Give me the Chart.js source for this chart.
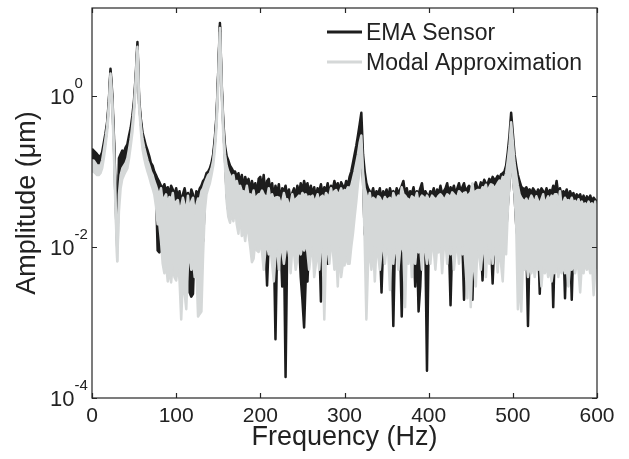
<!DOCTYPE html>
<html>
<head>
<meta charset="utf-8">
<script src="https://cdn.jsdelivr.net/npm/chart.js@4.4.1/dist/chart.umd.min.js"></script>
<style>
  body { margin: 0; background: #fff; }
  #wrap { width: 629px; height: 459px; }
</style>
</head>
<body>
<div id="wrap"><canvas id="spectrumChart" width="629" height="459"></canvas></div>
<script>
// frequency grid (Hz), one sample every 2 Hz
const freqHz = [];
for (let f = 0; f <= 600; f += 2) freqHz.push(f);

// EMA sensor: upper / lower edge of the measured spectrum (um)
const emaTop = [
  0.2, 0.19, 0.18, 0.17, 0.16, 0.16, 0.18, 0.24, 0.32, 0.45,
  0.85, 2.3, 1.1, 0.3, 0.06, 0.012, 0.15, 0.17, 0.19, 0.18,
  0.21, 0.23, 0.3, 0.38, 0.55, 0.9, 1.9, 5.2, 0.9, 0.5,
  0.33, 0.27, 0.22, 0.19, 0.16, 0.13, 0.12, 0.1, 0.09, 0.08,
  0.073, 0.065, 0.06, 0.068, 0.055, 0.062, 0.05, 0.065, 0.058, 0.048,
  0.06, 0.045, 0.055, 0.038, 0.05, 0.06, 0.045, 0.052, 0.04, 0.058,
  0.05, 0.035, 0.055, 0.048, 0.06, 0.065, 0.075, 0.08, 0.095, 0.1,
  0.11, 0.13, 0.17, 0.28, 0.56, 2.1, 9.3, 1.5, 0.45, 0.22,
  0.16, 0.14, 0.12, 0.11, 0.1, 0.1, 0.085, 0.095, 0.07, 0.09,
  0.06, 0.085, 0.07, 0.08, 0.055, 0.075, 0.06, 0.07, 0.05, 0.08,
  0.085, 0.06, 0.09, 0.05, 0.075, 0.08, 0.055, 0.07, 0.045, 0.065,
  0.05, 0.068, 0.04, 0.06, 0.055, 0.065, 0.045, 0.058, 0.04, 0.052,
  0.06, 0.045, 0.065, 0.05, 0.07, 0.055, 0.075, 0.06, 0.07, 0.05,
  0.065, 0.05, 0.062, 0.045, 0.06, 0.055, 0.068, 0.05, 0.062, 0.055,
  0.07, 0.05, 0.065, 0.058, 0.075, 0.06, 0.07, 0.055, 0.072, 0.065,
  0.06, 0.075, 0.065, 0.085, 0.1, 0.13, 0.17, 0.22, 0.3, 0.42,
  0.6, 0.17, 0.1, 0.07, 0.06, 0.055, 0.05, 0.06, 0.045, 0.055,
  0.05, 0.06, 0.042, 0.055, 0.048, 0.058, 0.045, 0.06, 0.05, 0.055,
  0.047, 0.06, 0.05, 0.058, 0.065, 0.075, 0.05, 0.06, 0.045, 0.055,
  0.05, 0.062, 0.045, 0.055, 0.05, 0.06, 0.07, 0.048, 0.055, 0.05,
  0.045, 0.055, 0.05, 0.06, 0.045, 0.058, 0.05, 0.065, 0.05, 0.055,
  0.06, 0.07, 0.05, 0.062, 0.055, 0.065, 0.05, 0.06, 0.07, 0.055,
  0.062, 0.07, 0.055, 0.06, 0.065, 0.055, 0.068, 0.06, 0.072, 0.06,
  0.06, 0.072, 0.065, 0.078, 0.07, 0.068, 0.08, 0.072, 0.085, 0.078,
  0.08, 0.088, 0.08, 0.092, 0.095, 0.1, 0.12, 0.18, 0.3, 0.6,
  0.32, 0.17, 0.12, 0.09, 0.075, 0.063, 0.06, 0.058, 0.062, 0.055,
  0.058, 0.052, 0.06, 0.055, 0.05, 0.058, 0.052, 0.06, 0.055, 0.05,
  0.06, 0.05, 0.057, 0.052, 0.065, 0.055, 0.075, 0.05, 0.06, 0.048,
  0.055, 0.05, 0.058, 0.045, 0.055, 0.048, 0.052, 0.044, 0.05, 0.046,
  0.05, 0.042, 0.048, 0.04, 0.047, 0.042, 0.048, 0.04, 0.045, 0.042,
  0.04
];
const emaLow = [
  0.13, 0.13, 0.12, 0.12, 0.12, 0.12, 0.14, 0.18, 0.26, 0.4,
  0.8, 2.1, 0.9, 0.25, 0.04, 0.01, 0.09, 0.1, 0.12, 0.12,
  0.13, 0.15, 0.2, 0.28, 0.45, 0.75, 1.7, 4.5, 0.8, 0.45,
  0.28, 0.21, 0.17, 0.14, 0.12, 0.1, 0.09, 0.075, 0.06, 0.009,
  0.0085, 0.009, 0.012, 0.012, 0.012, 0.012, 0.012, 0.012, 0.012, 0.012,
  0.012, 0.012, 0.012, 0.012, 0.012, 0.012, 0.012, 0.012, 0.0025, 0.0022,
  0.0024, 0.012, 0.012, 0.012, 0.012, 0.012, 0.012, 0.04, 0.07, 0.08,
  0.09, 0.11, 0.15, 0.25, 0.5, 1.9, 8.5, 1.3, 0.4, 0.15,
  0.05, 0.03, 0.025, 0.035, 0.025, 0.04, 0.025, 0.02, 0.035, 0.02,
  0.02, 0.015, 0.022, 0.018, 0.012, 0.012, 0.012, 0.012, 0.012, 0.012,
  0.012, 0.012, 0.012, 0.012, 0.0031, 0.012, 0.012, 0.012, 0.012, 0.0006,
  0.012, 0.012, 0.012, 0.003, 0.012, 0.00019, 0.012, 0.012, 0.012, 0.012,
  0.012, 0.012, 0.012, 0.012, 0.004, 0.002, 0.00086, 0.004, 0.0035, 0.012,
  0.012, 0.012, 0.012, 0.012, 0.012, 0.012, 0.0019, 0.012, 0.012, 0.012,
  0.006, 0.012, 0.012, 0.012, 0.012, 0.012, 0.012, 0.012, 0.012, 0.012,
  0.012, 0.012, 0.012, 0.012, 0.025, 0.03, 0.05, 0.07, 0.1, 0.15,
  0.2, 0.08, 0.015, 0.012, 0.012, 0.012, 0.012, 0.012, 0.012, 0.012,
  0.012, 0.012, 0.0025, 0.012, 0.012, 0.012, 0.012, 0.012, 0.012, 0.0009,
  0.012, 0.012, 0.012, 0.012, 0.0012, 0.012, 0.012, 0.012, 0.012, 0.012,
  0.012, 0.012, 0.003, 0.012, 0.0014, 0.003, 0.012, 0.012, 0.012, 0.00023,
  0.012, 0.012, 0.012, 0.012, 0.012, 0.012, 0.012, 0.012, 0.012, 0.012,
  0.012, 0.012, 0.012, 0.0017, 0.012, 0.012, 0.012, 0.012, 0.012, 0.012,
  0.012, 0.002, 0.012, 0.012, 0.012, 0.012, 0.002, 0.012, 0.012, 0.012,
  0.012, 0.012, 0.0036, 0.012, 0.012, 0.012, 0.012, 0.012, 0.0033, 0.012,
  0.012, 0.012, 0.012, 0.012, 0.012, 0.012, 0.015, 0.035, 0.07, 0.2,
  0.09, 0.05, 0.02, 0.012, 0.012, 0.012, 0.012, 0.012, 0.012, 0.0009,
  0.012, 0.012, 0.012, 0.012, 0.012, 0.012, 0.0024, 0.012, 0.012, 0.012,
  0.012, 0.012, 0.012, 0.012, 0.0016, 0.012, 0.012, 0.012, 0.012, 0.012,
  0.012, 0.0021, 0.012, 0.012, 0.012, 0.002, 0.012, 0.012, 0.012, 0.012,
  0.012, 0.012, 0.012, 0.012, 0.012, 0.012, 0.012, 0.012, 0.012, 0.012,
  0.012
];

// modal approximation: upper / lower edge (um)
const modalTop = [
  0.14, 0.14, 0.13, 0.12, 0.12, 0.12, 0.14, 0.19, 0.27, 0.4,
  0.75, 2.0, 0.9, 0.22, 0.04, 0.0065, 0.05, 0.09, 0.11, 0.12,
  0.13, 0.15, 0.2, 0.27, 0.42, 0.75, 1.7, 4.5, 0.8, 0.42,
  0.27, 0.21, 0.17, 0.14, 0.12, 0.1, 0.09, 0.075, 0.065, 0.055,
  0.05, 0.06, 0.04, 0.045, 0.05, 0.035, 0.046, 0.04, 0.052, 0.033,
  0.04, 0.042, 0.03, 0.035, 0.045, 0.036, 0.03, 0.048, 0.028, 0.04,
  0.045, 0.028, 0.036, 0.044, 0.042, 0.055, 0.06, 0.07, 0.08, 0.09,
  0.095, 0.11, 0.14, 0.23, 0.48, 1.8, 8.0, 1.3, 0.38, 0.17,
  0.12, 0.1, 0.09, 0.08, 0.09, 0.065, 0.075, 0.06, 0.065, 0.055,
  0.055, 0.05, 0.065, 0.048, 0.05, 0.045, 0.056, 0.04, 0.047, 0.05,
  0.05, 0.056, 0.05, 0.047, 0.045, 0.06, 0.04, 0.05, 0.042, 0.045,
  0.046, 0.045, 0.038, 0.04, 0.052, 0.042, 0.043, 0.035, 0.038, 0.05,
  0.04, 0.043, 0.045, 0.048, 0.045, 0.052, 0.048, 0.05, 0.044, 0.047,
  0.046, 0.048, 0.04, 0.043, 0.05, 0.038, 0.046, 0.048, 0.04, 0.052,
  0.048, 0.047, 0.06, 0.045, 0.055, 0.057, 0.05, 0.052, 0.06, 0.05,
  0.057, 0.055, 0.062, 0.06, 0.065, 0.08, 0.1, 0.13, 0.17, 0.24,
  0.3, 0.1, 0.06, 0.05, 0.04, 0.052, 0.036, 0.045, 0.043, 0.04,
  0.047, 0.045, 0.04, 0.04, 0.046, 0.042, 0.043, 0.045, 0.036, 0.052,
  0.045, 0.044, 0.048, 0.042, 0.062, 0.05, 0.048, 0.044, 0.043, 0.04,
  0.047, 0.045, 0.043, 0.052, 0.038, 0.044, 0.048, 0.046, 0.042, 0.048,
  0.043, 0.042, 0.048, 0.045, 0.043, 0.044, 0.048, 0.05, 0.047, 0.042,
  0.045, 0.05, 0.048, 0.046, 0.053, 0.05, 0.047, 0.046, 0.055, 0.052,
  0.048, 0.052, 0.053, 0.046, 0.05, 0.053, 0.07, 0.046, 0.055, 0.057,
  0.057, 0.055, 0.062, 0.06, 0.067, 0.052, 0.062, 0.068, 0.066, 0.06,
  0.064, 0.07, 0.076, 0.072, 0.085, 0.08, 0.095, 0.14, 0.22, 0.45,
  0.25, 0.13, 0.09, 0.065, 0.05, 0.045, 0.042, 0.04, 0.044, 0.038,
  0.042, 0.048, 0.043, 0.039, 0.047, 0.041, 0.037, 0.043, 0.05, 0.036,
  0.042, 0.047, 0.04, 0.048, 0.045, 0.05, 0.05, 0.036, 0.055, 0.035,
  0.039, 0.045, 0.041, 0.042, 0.039, 0.045, 0.038, 0.041, 0.036, 0.043,
  0.036, 0.04, 0.035, 0.038, 0.034, 0.04, 0.035, 0.038, 0.033, 0.04,
  0.03
];
const modalLow = [
  0.1, 0.1, 0.095, 0.09, 0.09, 0.095, 0.11, 0.15, 0.22, 0.34,
  0.65, 1.8, 0.8, 0.18, 0.03, 0.0065, 0.03, 0.06, 0.08, 0.09,
  0.1, 0.11, 0.15, 0.22, 0.33, 0.6, 1.5, 4.0, 0.7, 0.35,
  0.2, 0.15, 0.12, 0.1, 0.085, 0.07, 0.06, 0.05, 0.035, 0.02,
  0.02, 0.012, 0.006, 0.0045, 0.006, 0.0035, 0.005, 0.0034, 0.006, 0.004,
  0.0036, 0.006, 0.0036, 0.0011, 0.004, 0.0025, 0.0015, 0.006, 0.008, 0.005,
  0.007, 0.004, 0.0055, 0.0012, 0.0013, 0.0014, 0.008, 0.03, 0.05, 0.06,
  0.07, 0.09, 0.12, 0.2, 0.4, 1.5, 7.0, 1.1, 0.3, 0.12,
  0.04, 0.025, 0.021, 0.03, 0.022, 0.035, 0.02, 0.015, 0.03, 0.014,
  0.018, 0.012, 0.02, 0.015, 0.01, 0.0063, 0.007, 0.012, 0.009, 0.0086,
  0.012, 0.0086, 0.005, 0.009, 0.011, 0.008, 0.01, 0.006, 0.0035, 0.008,
  0.01, 0.005, 0.011, 0.009, 0.006, 0.009, 0.011, 0.008, 0.0045, 0.01,
  0.0085, 0.005, 0.007, 0.01, 0.008, 0.011, 0.009, 0.012, 0.0085, 0.005,
  0.008, 0.011, 0.004, 0.006, 0.01, 0.005, 0.012, 0.01, 0.0011, 0.009,
  0.01, 0.006, 0.011, 0.0095, 0.005, 0.009, 0.003, 0.011, 0.004, 0.006,
  0.0057, 0.008, 0.006, 0.006, 0.01, 0.015, 0.025, 0.04, 0.07, 0.1,
  0.2, 0.08, 0.012, 0.0011, 0.006, 0.009, 0.005, 0.011, 0.0035, 0.01,
  0.008, 0.005, 0.009, 0.012, 0.006, 0.01, 0.0085, 0.0027, 0.011, 0.006,
  0.012, 0.008, 0.005, 0.009, 0.011, 0.0085, 0.0016, 0.01, 0.006, 0.012,
  0.004, 0.01, 0.006, 0.011, 0.0085, 0.01, 0.005, 0.011, 0.009, 0.006,
  0.012, 0.006, 0.011, 0.0095, 0.005, 0.01, 0.0085, 0.011, 0.0045, 0.01,
  0.012, 0.006, 0.011, 0.008, 0.012, 0.005, 0.0085, 0.012, 0.006, 0.011,
  0.008, 0.011, 0.005, 0.0021, 0.01, 0.0016, 0.009, 0.005, 0.003, 0.01,
  0.008, 0.005, 0.009, 0.011, 0.004, 0.011, 0.006, 0.012, 0.006, 0.01,
  0.008, 0.0046, 0.011, 0.006, 0.0035, 0.012, 0.008, 0.03, 0.07, 0.2,
  0.08, 0.05, 0.02, 0.0015, 0.004, 0.0014, 0.006, 0.005, 0.007, 0.004,
  0.006, 0.0045, 0.0065, 0.004, 0.006, 0.005, 0.0065, 0.003, 0.006, 0.0045,
  0.006, 0.004, 0.0055, 0.0035, 0.005, 0.0045, 0.006, 0.004, 0.0055, 0.0045,
  0.006, 0.0045, 0.0055, 0.003, 0.006, 0.005, 0.0065, 0.0045, 0.006, 0.005,
  0.0025, 0.006, 0.0045, 0.0065, 0.005, 0.006, 0.0045, 0.0065, 0.0023, 0.005,
  0.006
];

// axis ticks
const xTickValues = [0, 100, 200, 300, 400, 500, 600];
const yTickValues = [1e-4, 1e-2, 1];
const yTickExponents = ['-4', '-2', '0'];

const seriesNames = ['EMA Sensor', 'Modal Approximation'];
const blackColor = '#1d1d1d';
const grayColor = '#d5d8d8';
const fontFamily = '"Liberation Sans", Arial, Helvetica, sans-serif';

const toPoints = (arr) => arr.map((v, i) => ({ x: freqHz[i], y: v }));

const lineStyle = {
    pointRadius: 0,
    borderWidth: 2.5,
    tension: 0,
    borderJoinStyle: 'round',
};

// box, inward ticks, y tick labels with exponents and legend inside the plot
const matlabAxes = {
    id: 'matlabAxes',
    afterDraw(chart) {
        const ctx = chart.ctx;
        const area = chart.chartArea;
        const xs = chart.scales.x;
        const ys = chart.scales.y;
        ctx.save();
        ctx.strokeStyle = '#262626';
        ctx.lineWidth = 1.2;
        ctx.strokeRect(area.left, area.top, area.right - area.left, area.bottom - area.top);

        ctx.beginPath();
        xTickValues.forEach(v => {
            const px = Math.round(xs.getPixelForValue(v)) + 0.5;
            ctx.moveTo(px, area.bottom); ctx.lineTo(px, area.bottom - 5);
            ctx.moveTo(px, area.top); ctx.lineTo(px, area.top + 5);
        });
        yTickValues.forEach(v => {
            const py = Math.round(ys.getPixelForValue(v)) + 0.5;
            ctx.moveTo(area.left, py); ctx.lineTo(area.left + 5, py);
            ctx.moveTo(area.right, py); ctx.lineTo(area.right - 5, py);
        });
        ctx.stroke();

        // y tick labels: 10 with a raised exponent
        ctx.fillStyle = '#222';
        ctx.textAlign = 'left';
        ctx.textBaseline = 'alphabetic';
        yTickValues.forEach((v, i) => {
            const py = ys.getPixelForValue(v);
            ctx.font = '22px ' + fontFamily;
            ctx.fillText('10', 50, py + 8);
            const w = ctx.measureText('10').width;
            ctx.font = '15px ' + fontFamily;
            ctx.fillText(yTickExponents[i], 50 + w, py - 8);
        });

        // legend
        const legendRows = [
            { name: seriesNames[0], color: blackColor, y: 32 },
            { name: seriesNames[1], color: grayColor, y: 62 },
        ];
        ctx.font = '23px ' + fontFamily;
        legendRows.forEach(row => {
            ctx.strokeStyle = row.color;
            ctx.lineWidth = 3;
            ctx.beginPath();
            ctx.moveTo(327, row.y);
            ctx.lineTo(362, row.y);
            ctx.stroke();
            ctx.fillStyle = '#222';
            ctx.fillText(row.name, 366, row.y + 8);
        });
        ctx.restore();
    }
};

const ctx = document.getElementById('spectrumChart').getContext('2d');
const spectrumChart = new Chart(ctx, {
    type: 'line',
    data: {
        datasets: [
            { ...lineStyle, label: seriesNames[0], data: toPoints(emaTop), borderColor: blackColor, backgroundColor: blackColor, fill: '+1', order: 2 },
            { ...lineStyle, label: '', data: toPoints(emaLow), borderColor: blackColor, fill: false, order: 2 },
            { ...lineStyle, label: seriesNames[1], data: toPoints(modalTop), borderColor: grayColor, backgroundColor: grayColor, fill: '+1', order: 1 },
            { ...lineStyle, label: '', data: toPoints(modalLow), borderColor: grayColor, fill: false, order: 1 },
        ]
    },
    options: {
        responsive: false,
        animation: false,
        devicePixelRatio: 1,
        layout: { padding: { left: 0, right: 32, top: 8, bottom: 0 } },
        plugins: {
            legend: { display: false },
            tooltip: { enabled: false }
        },
        scales: {
            x: {
                type: 'linear',
                min: 0,
                max: 600,
                grid: { display: false, drawTicks: false },
                border: { display: false },
                ticks: {
                    stepSize: 100,
                    autoSkip: false,
                    maxRotation: 0,
                    padding: 6,
                    color: '#222',
                    font: { family: fontFamily, size: 21 }
                },
                title: {
                    display: true,
                    text: 'Frequency (Hz)',
                    color: '#222',
                    font: { family: fontFamily, size: 27, lineHeight: 1 },
                    padding: { top: 0, bottom: 8 }
                },
                afterFit: (scale) => { scale.height = 61; }
            },
            y: {
                type: 'logarithmic',
                min: 1e-4,
                max: 14.7,
                grid: { display: false, drawTicks: false },
                border: { display: false },
                ticks: { display: false },
                title: {
                    display: true,
                    text: 'Amplitude (μm)',
                    color: '#222',
                    font: { family: fontFamily, size: 27, lineHeight: 1 },
                    padding: { top: 14, bottom: 0 }
                },
                afterFit: (scale) => { scale.width = 92; }
            }
        }
    },
    plugins: [matlabAxes]
});
</script>
</body>
</html>
